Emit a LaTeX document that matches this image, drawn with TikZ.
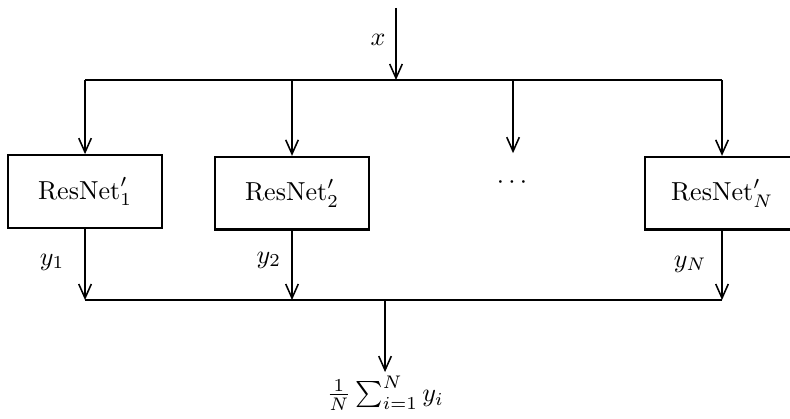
\documentclass[tikz,border=0pt]{standalone}
\usetikzlibrary{positioning,arrows.meta}

\begin{document}
\begin{tikzpicture}[thick]
\tikzstyle{netbox}=[draw,rectangle,minimum width=2.08cm,minimum height=0.98cm,inner sep=0pt]
\tikzstyle{flow}=[-{Straight Barb[length=1.9mm,width=1.7mm,line width=0.6pt]},thick]
\useasboundingbox (0,0) rectangle (10.665,5.643);

%input and split line
\coordinate (top) at (5.346,5.535);
\coordinate (xin) at (5.346,4.563);
\coordinate (b1) at (1.148,4.563);
\coordinate (b2) at (3.942,4.563);
\coordinate (b3) at (6.926,4.563);
\coordinate (bN) at (9.747,4.563);
\node (xlab) at (5.103,5.103) {$x$};
\draw[flow] (top) -- (xin);
\draw (b1) -- (bN);

%the networks
\node[netbox] (net1) at (1.148,3.058) {$\mathrm{ResNet}'_1$};
\node[netbox] (net2) at (3.942,3.035) {$\mathrm{ResNet}'_2$};
\node (dots) at (6.912,3.17) {$\cdots$};
\node[netbox] (netN) at (9.747,3.035) {$\mathrm{ResNet}'_N$};
\coordinate (d3) at (6.926,3.575);

\draw[flow] (b1) -- (net1);
\draw[flow] (b2) -- (net2);
\draw[flow] (b3) -- (d3);
\draw[flow] (bN) -- (netN);

%outputs and averaging
\coordinate (c1) at (1.148,1.593);
\coordinate (c2) at (3.942,1.593);
\coordinate (cN) at (9.747,1.593);
\coordinate (cout) at (5.198,1.593);
\node (y1) at (0.702,2.106) {$y_1$};
\node (y2) at (3.630,2.133) {$y_2$};
\node (yN) at (9.315,2.079) {$y_N$};
\draw[flow] (net1) -- (c1);
\draw[flow] (net2) -- (c2);
\draw[flow] (netN) -- (cN);
\draw (c1) -- (cN);

\node[anchor=north,inner sep=1pt] (avg) at (5.198,0.62) {$\frac{1}{N}\sum_{i=1}^N y_i$};
\draw[flow] (cout) -- (avg);
\end{tikzpicture}
\end{document}
